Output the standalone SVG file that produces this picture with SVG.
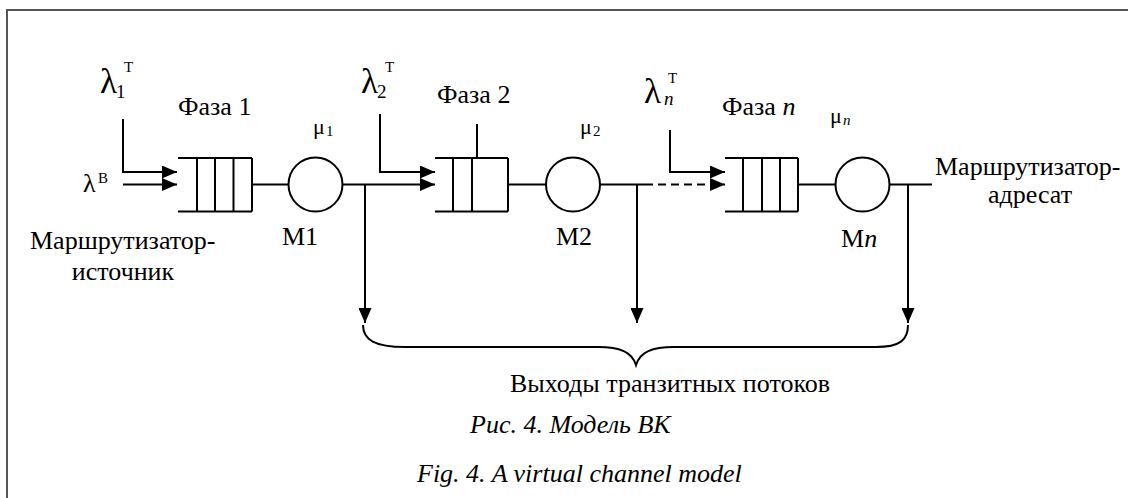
<svg xmlns="http://www.w3.org/2000/svg" width="1128" height="498" viewBox="0 0 1128 498" font-family="'Liberation Serif', 'DejaVu Serif', serif">
  <defs>
    <marker id="ah" viewBox="0 0 15 13" refX="15" refY="6.5" markerWidth="15" markerHeight="13" markerUnits="userSpaceOnUse" orient="auto">
      <path d="M0,0 L15,6.5 L0,13 Z" fill="#000"/>
    </marker>
  </defs>
  <style>
    .ln { stroke: #000; stroke-width: 2; fill: none; }
    .t { font-family: "Liberation Serif", "DejaVu Serif", serif; font-size: 26px; fill: #000; }
    .big { font-size: 35px; }
    .mu { font-size: 22px; }
    .sub { font-size: 19px; }
    .sup { font-size: 15px; }
    .i { font-style: italic; }
    .frame { stroke: #555; stroke-width: 2; fill: none; }
  </style>

  <rect width="1128" height="498" fill="#fff"/>
  <!-- frame -->
  <path class="frame" d="M7,498 V10 H1128"/>

  <!-- source router and its input flows -->
  <g id="source">
    <text class="t big" x="100" y="93">λ</text>
    <text class="t sub" x="116" y="98">1</text>
    <text class="t sup" x="124" y="72">Т</text>
    <text class="t" x="83" y="192">λ</text>
    <text class="t sup" x="98" y="183">В</text>
    <text class="t" x="30" y="249">Маршрутизатор-</text>
    <text class="t" x="123" y="280" text-anchor="middle">источник</text>
  </g>

  <!-- phase 1 -->
  <g id="queue1">
    <path class="ln" d="M178,158 H252 M178,211.5 H252 M197,158 V211.5 M215,158 V211.5 M233.5,158 V211.5 M252,158 V211.5"/>
    <text class="t" x="178" y="115">Фаза 1</text>
  </g>
  <g id="server1">
    <circle class="ln" cx="315.5" cy="184.5" r="27"/>
    <text class="t mu" x="313" y="134">μ</text>
    <text class="t sup" x="326" y="136">1</text>
    <text class="t" x="282" y="245">М1</text>
  </g>

  <!-- phase 2 -->
  <g id="queue2">
    <path class="ln" d="M435,158 H508 M435,211.5 H508 M453,158 V211.5 M472,158 V211.5 M508,158 V211.5 M477,124 V158"/>
    <text class="t" x="437" y="103">Фаза 2</text>
  </g>
  <g id="server2">
    <circle class="ln" cx="573" cy="184.5" r="27"/>
    <text class="t mu" x="580" y="134">μ</text>
    <text class="t sup" x="593" y="136">2</text>
    <text class="t" x="556" y="245">М2</text>
  </g>
  <g id="input2">
    <text class="t big" x="361" y="93">λ</text>
    <text class="t sub" x="377" y="98">2</text>
    <text class="t sup" x="385" y="72">Т</text>
  </g>

  <!-- phase n -->
  <g id="queuen">
    <path class="ln" d="M725,158 H798 M725,211.5 H798 M743,158 V211.5 M762,158 V211.5 M780,158 V211.5 M798,158 V211.5"/>
    <text class="t" x="722" y="115">Фаза <tspan class="i">n</tspan></text>
  </g>
  <g id="servern">
    <circle class="ln" cx="862.5" cy="184.5" r="27"/>
    <text class="t mu" x="830" y="123">μ</text>
    <text class="t sup i" x="843" y="125">n</text>
    <text class="t" x="841" y="247">М<tspan class="i">n</tspan></text>
  </g>
  <g id="inputn">
    <text class="t big" x="644" y="103">λ</text>
    <text class="t sub i" x="664" y="105">n</text>
    <text class="t sup" x="668" y="83">Т</text>
  </g>

  <!-- destination router -->
  <g id="destination">
    <text class="t" x="935" y="175">Маршрутизатор-</text>
    <text class="t" x="1030" y="203" text-anchor="middle">адресат</text>
  </g>

  <!-- transit outputs -->
  <g id="outputs">
    <path class="ln" d="M363,325 C363,340 375,347 405,347 H598 C620,347 632,352 636,365 C640,352 652,347 674,347 H876 C900,347 908,340 908,325"/>
    <text class="t" x="510" y="392">Выходы транзитных потоков</text>
  </g>

  <!-- connectors -->
  <g id="connectors">
    <path class="ln" d="M123,119 V172 H177" marker-end="url(#ah)"/>
    <path class="ln" d="M123,184.5 H177" marker-end="url(#ah)"/>
    <path class="ln" d="M252,184.5 H288.5"/>
    <path class="ln" d="M342.5,184.5 H435" marker-end="url(#ah)"/>
    <path class="ln" d="M380,114 V172 H435" marker-end="url(#ah)"/>
    <path class="ln" d="M508,184.5 H546"/>
    <path class="ln" d="M600,184.5 H645"/>
    <path class="ln" d="M645,184.5 H725" stroke-dasharray="8 5" marker-end="url(#ah)"/>
    <path class="ln" d="M670,130 V172 H725" marker-end="url(#ah)"/>
    <path class="ln" d="M798,184.5 H835.5"/>
    <path class="ln" d="M889.5,184.5 H932"/>
    <path class="ln" d="M365,184.5 V323" marker-end="url(#ah)"/>
    <path class="ln" d="M637,184.5 V323" marker-end="url(#ah)"/>
    <path class="ln" d="M908,184.5 V323" marker-end="url(#ah)"/>
  </g>

  <!-- caption -->
  <g id="caption">
    <text class="t i" x="470" y="433">Рис. 4. Модель ВК</text>
    <text class="t i" x="417" y="482">Fig. 4. A virtual channel model</text>
  </g>
</svg>
